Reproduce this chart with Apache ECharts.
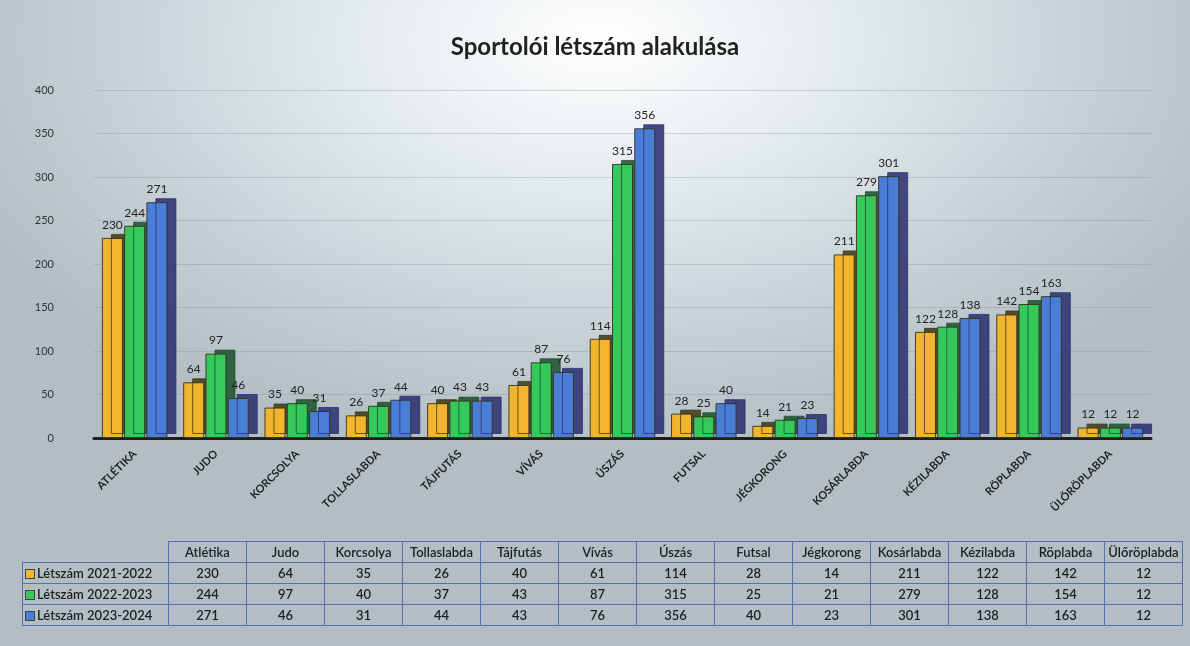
<!DOCTYPE html>
<html>
<head>
<meta charset="utf-8">
<script src="https://cdn.jsdelivr.net/npm/echarts@6/dist/echarts.min.js"></script>
<style>
    html, body { margin: 0; padding: 0; }
    body {
        width: 1190px; height: 646px; overflow: hidden; position: relative;
        background: radial-gradient(ellipse 700px 420px at 600px 40px, #ffffff 0%, #e4ebee 35%, #c3cdd2 75%, #b3bec4 100%);
        font-family: Lato, 'Open Sans', sans-serif;
    }
    #chart { position: absolute; left: 0; top: 0; width: 1190px; height: 646px; }
    #dataTable {
        position: absolute; left: 22px; top: 541px;
        border-collapse: collapse; font-size: 13px; color: #1e1e1e; font-weight: 600;
    }
    #dataTable td { border: 1px solid #5b6eb4; text-align: center; height: 20px; padding: 0; width: 77px; }
    #dataTable td.lbl { width: 143px; text-align: left; padding-left: 2px; }
    #dataTable td.empty { border: none; border-right: 1px solid #5b6eb4; border-bottom: 1px solid #5b6eb4; }
    .key { display: inline-block; width: 8px; height: 8px; border: 1px solid #444; margin-right: 2px; vertical-align: -1px; }
</style>
</head>
<body>
<div id="chart"></div>
<table id="dataTable"></table>
<script>
// adatok
var categories = ['Atlétika', 'Judo', 'Korcsolya', 'Tollaslabda', 'Tájfutás', 'Vívás', 'Úszás',
                  'Futsal', 'Jégkorong', 'Kosárlabda', 'Kézilabda', 'Röplabda', 'Ülőröplabda'];
var seriesNames = ['Létszám 2021-2022', 'Létszám 2022-2023', 'Létszám 2023-2024'];
var v2122 = [230, 64, 35, 26, 40, 61, 114, 28, 14, 211, 122, 142, 12];
var v2223 = [244, 97, 40, 37, 43, 87, 315, 25, 21, 279, 128, 154, 12];
var v2324 = [271, 46, 31, 44, 43, 76, 356, 40, 23, 301, 138, 163, 12];
var colors = ['#f3b52f', '#34c95a', '#4a7ed6'];
var sideColors = ['rgba(60,55,20,0.85)', 'rgba(25,80,40,0.85)', 'rgba(40,45,110,0.85)'];
var allValues = [v2122, v2223, v2324];

var chart = echarts.init(document.getElementById('chart'));

function makeSeries(i){
    return {
        name: seriesNames[i],
        type: 'bar',
        data: allValues[i],
        barWidth: 21,
        barGap: '6%',
        itemStyle: {
            color: colors[i],
            borderColor: 'rgba(50,50,30,0.9)',
            borderWidth: 1,
            shadowColor: sideColors[i],
            shadowOffsetX: 9,
            shadowOffsetY: -4,
            shadowBlur: 0
        },
        label: {
            show: true,
            position: 'top',
            distance: 7,
            fontSize: 12,
            color: '#222',
            fontFamily: 'Lato, sans-serif'
        }
    };
}

chart.setOption({
    backgroundColor: 'transparent',
    animation: false,
    title: {
        text: 'Sportolói létszám alakulása',
        left: 'center',
        top: 30,
        textStyle: { fontSize: 24, fontWeight: 'bold', color: '#222', fontFamily: 'Lato, sans-serif' }
    },
    grid: { left: 94, right: 39, top: 90, bottom: 208 },
    xAxis: {
        type: 'category',
        data: categories,
        axisLine: { show: true, lineStyle: { color: '#1e1e1e', width: 3 } },
        axisTick: { show: false },
        axisLabel: {
            rotate: 45,
            fontSize: 11,
            fontWeight: 'bold',
            color: '#222',
            margin: 14,
            fontFamily: 'Lato, sans-serif',
            formatter: function(v){ return v.toUpperCase(); }
        }
    },
    yAxis: {
        type: 'value',
        min: 0,
        max: 400,
        interval: 50,
        axisLine: { show: false },
        axisTick: { show: false },
        axisLabel: { fontSize: 11, color: '#333', margin: 40, fontFamily: 'Lato, sans-serif' },
        splitLine: { lineStyle: { color: 'rgba(120,130,140,0.28)', width: 1 } }
    },
    series: [makeSeries(0), makeSeries(1), makeSeries(2)]
});

// táblázat
var html = '<tr><td class="empty"></td>';
for(let c in categories)
    html += '<td>' + categories[c] + '</td>';
html += '</tr>';
for(let s = 0; s < seriesNames.length; s++){
    html += '<tr><td class="lbl"><span class="key" style="background:' + colors[s] + '"></span>' + seriesNames[s] + '</td>';
    for(let c = 0; c < categories.length; c++)
        html += '<td>' + allValues[s][c] + '</td>';
    html += '</tr>';
}
document.getElementById('dataTable').innerHTML = html;
</script>
</body>
</html>
